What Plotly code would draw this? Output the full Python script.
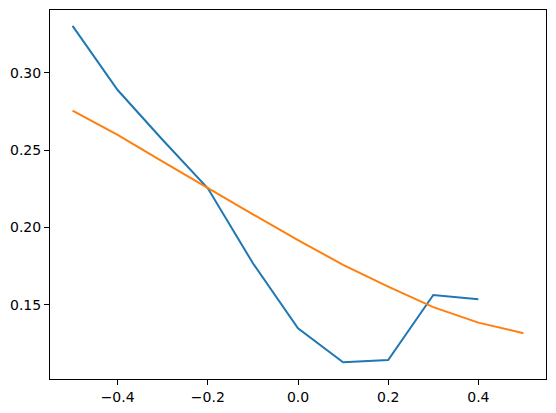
import plotly.graph_objects as go

x_blue = [-0.5, -0.4, -0.3, -0.2, -0.1, 0.0, 0.1, 0.2, 0.3, 0.4]
y_blue = [0.3302, 0.2888, 0.2565, 0.2253, 0.1769, 0.1349, 0.1129, 0.1144, 0.1564, 0.1536]

x_orange = [-0.5, -0.4, -0.3, -0.2, -0.1, 0.0, 0.1, 0.2, 0.3, 0.4, 0.5]
y_orange = [0.2755, 0.2598, 0.2425, 0.2253, 0.2085, 0.1919, 0.1758, 0.1618, 0.1485, 0.1385, 0.1317]

x_ticks = [-0.4, -0.2, 0.0, 0.2, 0.4]
y_ticks = [0.15, 0.20, 0.25, 0.30]

fig = go.Figure()

fig.add_trace(go.Scatter(
    x=x_blue, y=y_blue,
    mode="lines", line=dict(color="#1f77b4", width=2),
))
fig.add_trace(go.Scatter(
    x=x_orange, y=y_orange,
    mode="lines", line=dict(color="#ff7f0e", width=2),
))

axis_style = dict(
    showgrid=False, zeroline=False,
    showline=True, linecolor="black", linewidth=1, mirror=True,
    ticks="outside", ticklen=5, tickwidth=1, tickcolor="black",
    tickfont=dict(family="DejaVu Sans", size=14, color="black"),
)

fig.update_xaxes(range=[-0.55, 0.55], tickvals=x_ticks, tickformat=".1f", **axis_style)
fig.update_yaxes(range=[0.1021, 0.3405], tickvals=y_ticks, tickformat=".2f", **axis_style)

# page body adds an 8px offset, so margins are shifted to compensate
fig.update_layout(
    width=556, height=413,
    margin=dict(l=42, r=18, t=2, b=42),
    plot_bgcolor="white", paper_bgcolor="white",
    showlegend=False,
)

fig.write_html("out.html")
